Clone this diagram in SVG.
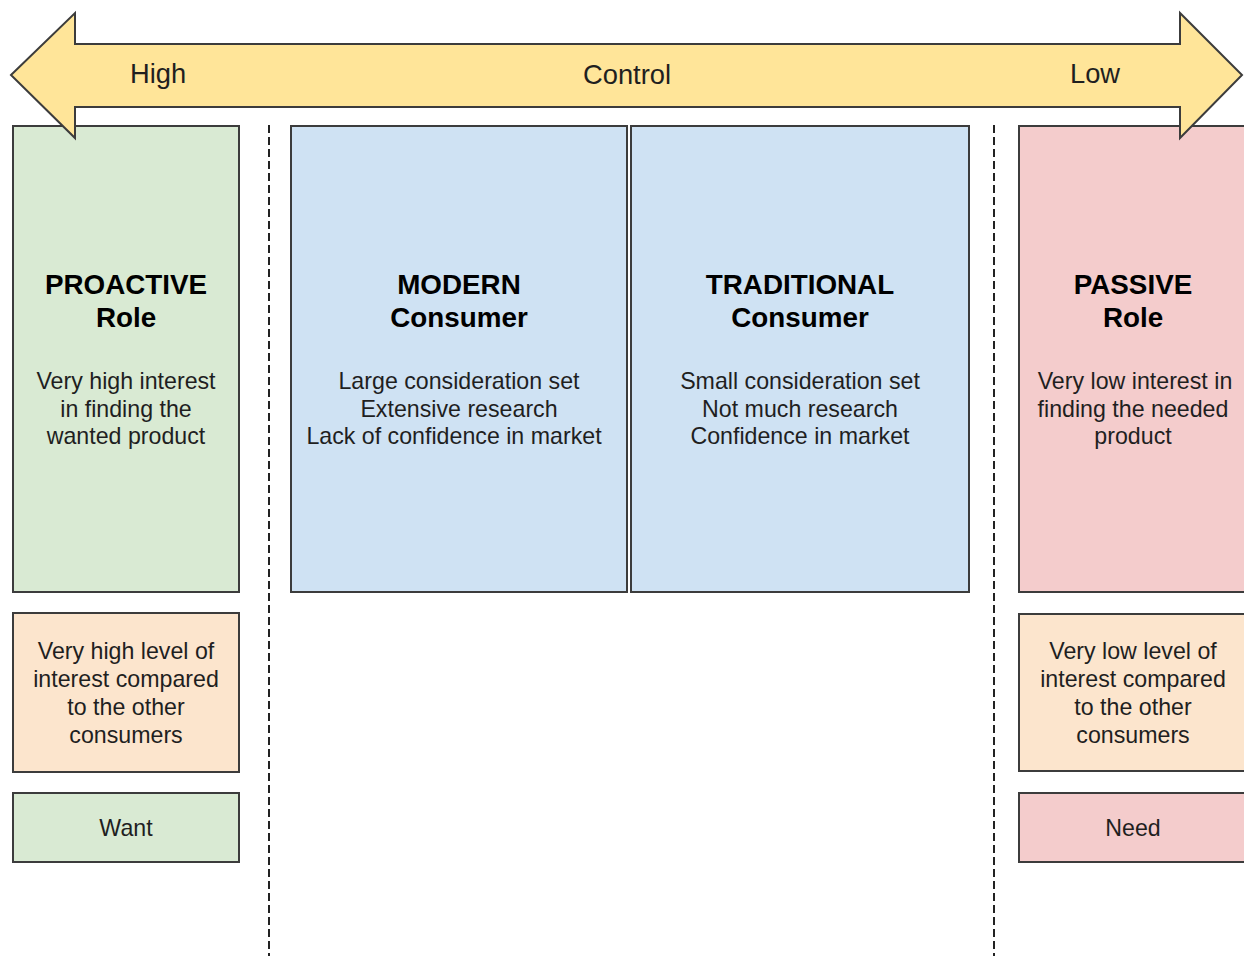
<svg xmlns="http://www.w3.org/2000/svg" width="1244" height="956" viewBox="0 0 1244 956">
<style>
  .box { stroke: #3c3c3c; stroke-width: 2; }
  .green { fill: #d9ead3; }
  .blue { fill: #cfe2f3; }
  .pink { fill: #f4cccc; }
  .orange { fill: #fce5cd; }
  .title { font-family: "Liberation Sans", Arial, sans-serif; font-size: 27.8px; font-weight: bold; fill: #000; text-anchor: middle; }
  .body { font-family: "Liberation Sans", Arial, sans-serif; font-size: 23.2px; fill: #1f1f1f; text-anchor: middle; }
  .lbl { font-family: "Liberation Sans", Arial, sans-serif; font-size: 27.3px; fill: #1f1f1f; text-anchor: middle; }
  .dash { stroke: #222; stroke-width: 2; stroke-dasharray: 8 4; fill: none; }
</style>
<rect width="1244" height="956" fill="#ffffff"/>
<g id="connectors">
  <line class="dash" x1="269" y1="125" x2="269" y2="956"/>
  <line class="dash" x1="994" y1="125" x2="994" y2="956"/>
</g>
<g id="proactive">
  <rect class="box green" x="13" y="126" width="226" height="466"/>
  <text class="title" x="126" y="294">PROACTIVE</text>
  <text class="title" x="126" y="327">Role</text>
  <text class="body" x="126" y="389">Very high interest</text>
  <text class="body" x="126" y="417">in finding the</text>
  <text class="body" x="126" y="444">wanted product</text>
</g>
<g id="modern">
  <rect class="box blue" x="291" y="126" width="336" height="466"/>
  <text class="title" x="459" y="294">MODERN</text>
  <text class="title" x="459" y="327">Consumer</text>
  <text class="body" x="459" y="389">Large consideration set</text>
  <text class="body" x="459" y="417">Extensive research</text>
  <text class="body" x="454" y="444">Lack of confidence in market</text>
</g>
<g id="traditional">
  <rect class="box blue" x="631" y="126" width="338" height="466"/>
  <text class="title" x="800" y="294">TRADITIONAL</text>
  <text class="title" x="800" y="327">Consumer</text>
  <text class="body" x="800" y="389">Small consideration set</text>
  <text class="body" x="800" y="417">Not much research</text>
  <text class="body" x="800" y="444">Confidence in market</text>
</g>
<g id="passive">
  <rect class="box pink" x="1019" y="126" width="228" height="466"/>
  <text class="title" x="1133" y="294">PASSIVE</text>
  <text class="title" x="1133" y="327">Role</text>
  <text class="body" x="1135" y="389">Very low interest in</text>
  <text class="body" x="1133" y="417">finding the needed</text>
  <text class="body" x="1133" y="444">product</text>
</g>
<g id="high-level">
  <rect class="box orange" x="13" y="613" width="226" height="159"/>
  <text class="body" x="126" y="659">Very high level of</text>
  <text class="body" x="126" y="687">interest compared</text>
  <text class="body" x="126" y="715">to the other</text>
  <text class="body" x="126" y="743">consumers</text>
</g>
<g id="low-level">
  <rect class="box orange" x="1019" y="614" width="228" height="157"/>
  <text class="body" x="1133" y="659">Very low level of</text>
  <text class="body" x="1133" y="687">interest compared</text>
  <text class="body" x="1133" y="715">to the other</text>
  <text class="body" x="1133" y="743">consumers</text>
</g>
<g id="want">
  <rect class="box green" x="13" y="793" width="226" height="69"/>
  <text class="body" x="126" y="836">Want</text>
</g>
<g id="need">
  <rect class="box pink" x="1019" y="793" width="228" height="69"/>
  <text class="body" x="1133" y="836">Need</text>
</g>
<g id="control-arrow">
  <polygon points="11,75 75,13 75,44 1180,44 1180,13 1242,75 1180,138 1180,107 75,107 75,138" fill="#ffe599" stroke="#3c3c3c" stroke-width="2" stroke-linejoin="miter"/>
  <text class="lbl" x="158" y="83">High</text>
  <text class="lbl" x="627" y="84">Control</text>
  <text class="lbl" x="1095" y="83">Low</text>
</g>
</svg>
